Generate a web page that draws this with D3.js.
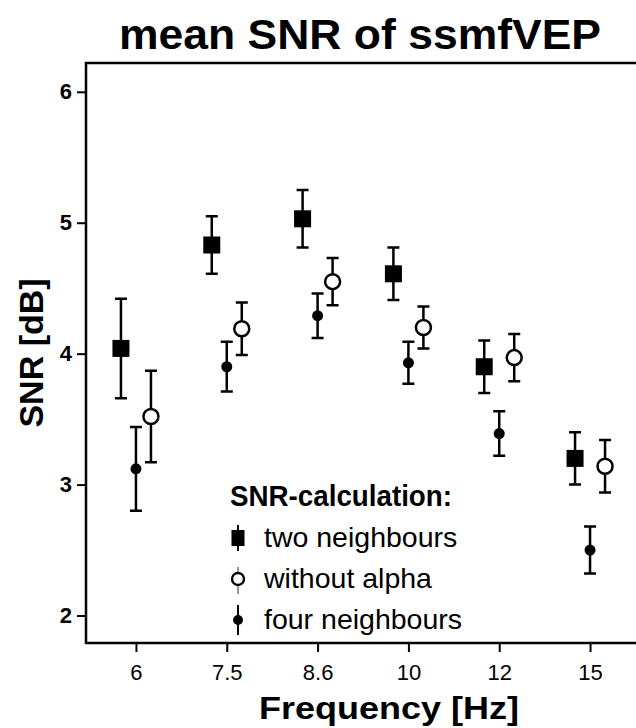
<!DOCTYPE html>
<html lang="en">
<head>
<meta charset="UTF-8">
<title>mean SNR of ssmfVEP</title>
<script src="https://d3js.org/d3.v7.min.js"></script>
<style>
    * { margin: 0; padding: 0; box-sizing: border-box; }
    body { background: #fff; width: 636px; height: 728px; overflow: hidden; }
    svg { display: block; font-family: 'Liberation Sans', Arial, sans-serif; }
</style>
</head>
<body>
<div id="chart"></div>
<script>
    // data
    const frequencies = ["6", "7.5", "8.6", "10", "12", "15"];
    const yTicks = [2, 3, 4, 5, 6];

    const twoNeighbours = [4.04, 4.83, 5.03, 4.61, 3.90, 3.20];
    const twoNeighboursErr = [0.38, 0.22, 0.22, 0.20, 0.20, 0.20];

    const withoutAlpha = [3.52, 4.19, 4.55, 4.20, 3.97, 3.14];
    const withoutAlphaErr = [0.35, 0.20, 0.18, 0.16, 0.18, 0.20];

    const fourNeighbours = [3.12, 3.90, 4.29, 3.93, 3.39, 2.50];
    const fourNeighboursErr = [0.32, 0.19, 0.17, 0.16, 0.17, 0.18];

    const seriesNames = ["two neighbours", "without alpha", "four neighbours"];

    const W = 636, H = 728;
    const plotLeft = 86, plotTop = 63, plotBottom = 643, plotRight = 640;

    const svg = d3.select("#chart").append("svg")
        .attr("width", W).attr("height", H);

    const x = d3.scalePoint()
        .domain(frequencies)
        .range([plotLeft, plotRight])
        .padding(0.55);

    const y = d3.scaleLinear()
        .domain([1.79, 6.22])
        .range([plotBottom, plotTop]);

    // frame (top, left, bottom)
    svg.append("path")
        .attr("d", `M${W},${plotTop}H${plotLeft}V${plotBottom}H${W}`)
        .attr("fill", "none")
        .attr("stroke", "#000")
        .attr("stroke-width", 2.5);

    const yAxis = svg.append("g")
        .attr("transform", `translate(${plotLeft},0)`)
        .call(d3.axisLeft(y).tickValues(yTicks).tickFormat(d3.format("d"))
            .tickSize(9).tickSizeOuter(0).tickPadding(5));
    yAxis.select(".domain").remove();
    yAxis.selectAll("line").attr("stroke", "#000").attr("stroke-width", 2);
    yAxis.selectAll("text")
        .style("font-family", "'Liberation Sans', Arial, sans-serif")
        .style("font-size", "22px")
        .style("font-weight", "bold")
        .attr("fill", "#000");

    const xAxis = svg.append("g")
        .attr("transform", `translate(0,${plotBottom})`)
        .call(d3.axisBottom(x).tickSize(9).tickSizeOuter(0).tickPadding(12));
    xAxis.select(".domain").remove();
    xAxis.selectAll("line").attr("stroke", "#000").attr("stroke-width", 2);
    xAxis.selectAll("text")
        .style("font-family", "'Liberation Sans', Arial, sans-serif")
        .style("font-size", "22px")
        .attr("fill", "#000");

    // series: marker type + horizontal dodge
    const series = [
        { name: seriesNames[0], mean: twoNeighbours, err: twoNeighboursErr, shape: "square", dx: -15 },
        { name: seriesNames[1], mean: withoutAlpha, err: withoutAlphaErr, shape: "circle", dx: 15 },
        { name: seriesNames[2], mean: fourNeighbours, err: fourNeighboursErr, shape: "dot", dx: 0 }
    ];

    const capW = 6;
    series.forEach(s => {
        const g = svg.append("g");
        const pts = frequencies.map((f, i) => ({ f, m: s.mean[i], e: s.err[i] }));
        const px = d => x(d.f) + s.dx;

        g.selectAll("path.err").data(pts).join("path")
            .attr("d", d => {
                const cx = px(d), y0 = y(d.m + d.e), y1 = y(d.m - d.e);
                return `M${cx},${y0}V${y1}M${cx - capW},${y0}H${cx + capW}M${cx - capW},${y1}H${cx + capW}`;
            })
            .attr("fill", "none")
            .attr("stroke", "#000")
            .attr("stroke-width", 2.5);

        if (s.shape === "square") {
            g.selectAll("rect").data(pts).join("rect")
                .attr("x", d => px(d) - 8.5)
                .attr("y", d => y(d.m) - 8.5)
                .attr("width", 17).attr("height", 17)
                .attr("fill", "#000");
        } else if (s.shape === "circle") {
            g.selectAll("circle").data(pts).join("circle")
                .attr("cx", px).attr("cy", d => y(d.m))
                .attr("r", 7.5)
                .attr("fill", "#fff")
                .attr("stroke", "#000")
                .attr("stroke-width", 2.5);
        } else {
            g.selectAll("circle").data(pts).join("circle")
                .attr("cx", px).attr("cy", d => y(d.m))
                .attr("r", 5.5)
                .attr("fill", "#000");
        }
    });

    // legend
    const legend = svg.append("g").attr("transform", "translate(230,506)");
    legend.append("text")
        .attr("font-weight", "bold")
        .attr("font-size", 29)
        .attr("textLength", 222)
        .attr("lengthAdjust", "spacingAndGlyphs")
        .text("SNR-calculation:");

    seriesNames.forEach((name, i) => {
        const row = legend.append("g").attr("transform", `translate(0,${41 * (i + 1)})`);
        const cx = 8, cy = -9;
        if (i === 0) {
            row.append("line").attr("x1", cx).attr("x2", cx).attr("y1", cy - 13).attr("y2", cy + 13)
                .attr("stroke", "#000").attr("stroke-width", 2);
            row.append("rect").attr("x", cx - 6.5).attr("y", cy - 8).attr("width", 13).attr("height", 16).attr("fill", "#000");
        } else if (i === 1) {
            row.append("line").attr("x1", cx).attr("x2", cx).attr("y1", cy - 12).attr("y2", cy + 15)
                .attr("stroke", "#999").attr("stroke-width", 2);
            row.append("circle").attr("cx", cx).attr("cy", cy).attr("r", 6)
                .attr("fill", "#fff").attr("stroke", "#000").attr("stroke-width", 2.4);
        } else {
            row.append("line").attr("x1", cx).attr("x2", cx).attr("y1", cy - 15).attr("y2", cy + 15)
                .attr("stroke", "#000").attr("stroke-width", 2);
            row.append("circle").attr("cx", cx).attr("cy", cy).attr("r", 5).attr("fill", "#000");
        }
        row.append("text")
            .attr("x", 34)
            .attr("font-size", 28.5)
            .text(name);
    });

    // titles
    svg.append("text")
        .attr("x", 360).attr("y", 49)
        .attr("text-anchor", "middle")
        .attr("font-weight", "bold")
        .attr("font-size", 42)
        .attr("textLength", 482)
        .attr("lengthAdjust", "spacingAndGlyphs")
        .text("mean SNR of ssmfVEP");

    svg.append("text")
        .attr("x", 389).attr("y", 719)
        .attr("text-anchor", "middle")
        .attr("font-weight", "bold")
        .attr("font-size", 32)
        .attr("textLength", 260)
        .attr("lengthAdjust", "spacingAndGlyphs")
        .text("Frequency [Hz]");

    svg.append("text")
        .attr("transform", `translate(43,${(plotTop + plotBottom) / 2}) rotate(-90)`)
        .attr("text-anchor", "middle")
        .attr("font-weight", "bold")
        .attr("font-size", 34)
        .text("SNR [dB]");
</script>
</body>
</html>
